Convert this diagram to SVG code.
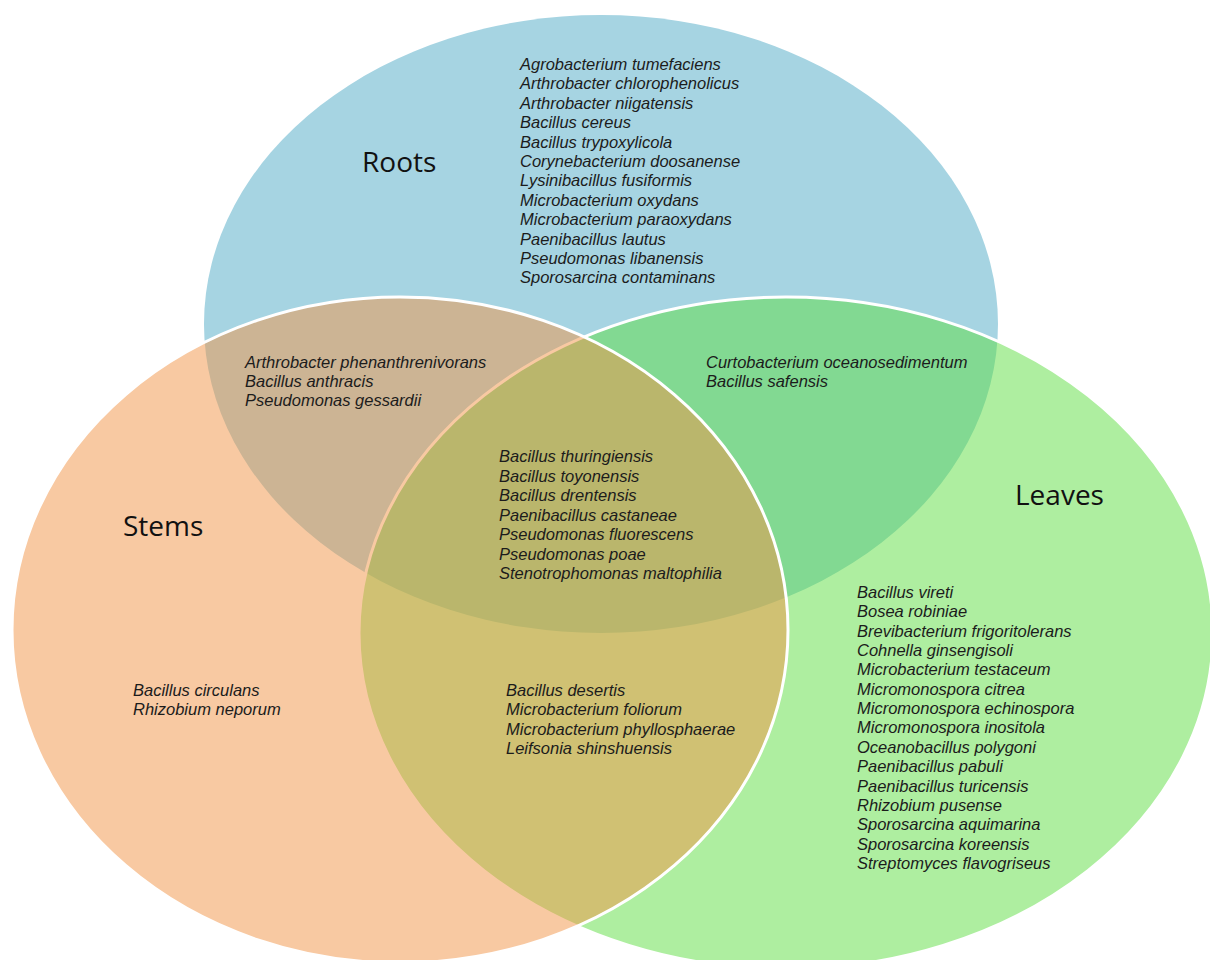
<svg xmlns="http://www.w3.org/2000/svg" width="1210" height="960" viewBox="0 0 1210 960">
<style>
.sp{font-family:"Liberation Sans",Arial,sans-serif;font-style:italic;font-size:16.5px;fill:#1c1c1c}
.lb{font-family:"Open Sans","Noto Sans",sans-serif;font-size:28px;fill:#111}
.ov{stroke:#ffffff;stroke-width:3;fill-opacity:0.5}
</style>
<rect width="1210" height="960" fill="#ffffff"/>
<g id="roots">
<ellipse cx="601" cy="324" rx="397" ry="309" fill="#A6D4E2"/>
<text class="lb" x="362" y="172">Roots</text>
</g>
<g id="leaves">
<ellipse class="ov" cx="786" cy="633" rx="427" ry="336" fill="#5DDD41"/>
<text class="lb" x="1015" y="505">Leaves</text>
</g>
<g id="stems">
<ellipse class="ov" cx="400" cy="630" rx="388" ry="333" fill="#F19345"/>
<text class="lb" x="123" y="536">Stems</text>
</g>
<g id="connectors"></g>
<g id="roots-only">
<text class="sp">
<tspan x="520" y="70">Agrobacterium tumefaciens</tspan>
<tspan x="520" y="89.4">Arthrobacter chlorophenolicus</tspan>
<tspan x="520" y="108.8">Arthrobacter niigatensis</tspan>
<tspan x="520" y="128.2">Bacillus cereus</tspan>
<tspan x="520" y="147.6">Bacillus trypoxylicola</tspan>
<tspan x="520" y="167">Corynebacterium doosanense</tspan>
<tspan x="520" y="186.4">Lysinibacillus fusiformis</tspan>
<tspan x="520" y="205.8">Microbacterium oxydans</tspan>
<tspan x="520" y="225.2">Microbacterium paraoxydans</tspan>
<tspan x="520" y="244.6">Paenibacillus lautus</tspan>
<tspan x="520" y="264">Pseudomonas libanensis</tspan>
<tspan x="520" y="283.4">Sporosarcina contaminans</tspan>
</text>
</g>
<g id="roots-stems">
<text class="sp">
<tspan x="245" y="368">Arthrobacter phenanthrenivorans</tspan>
<tspan x="245" y="387">Bacillus anthracis</tspan>
<tspan x="245" y="406">Pseudomonas gessardii</tspan>
</text>
</g>
<g id="roots-leaves">
<text class="sp">
<tspan x="706" y="368">Curtobacterium oceanosedimentum</tspan>
<tspan x="706" y="387">Bacillus safensis</tspan>
</text>
</g>
<g id="all-three">
<text class="sp">
<tspan x="499" y="462">Bacillus thuringiensis</tspan>
<tspan x="499" y="481.5">Bacillus toyonensis</tspan>
<tspan x="499" y="501">Bacillus drentensis</tspan>
<tspan x="499" y="520.5">Paenibacillus castaneae</tspan>
<tspan x="499" y="540">Pseudomonas fluorescens</tspan>
<tspan x="499" y="559.5">Pseudomonas poae</tspan>
<tspan x="499" y="579">Stenotrophomonas maltophilia</tspan>
</text>
</g>
<g id="stems-leaves">
<text class="sp">
<tspan x="506" y="696">Bacillus desertis</tspan>
<tspan x="506" y="715.4">Microbacterium foliorum</tspan>
<tspan x="506" y="734.8">Microbacterium phyllosphaerae</tspan>
<tspan x="506" y="754.2">Leifsonia shinshuensis</tspan>
</text>
</g>
<g id="stems-only">
<text class="sp">
<tspan x="133" y="696">Bacillus circulans</tspan>
<tspan x="133" y="715.4">Rhizobium neporum</tspan>
</text>
</g>
<g id="leaves-only">
<text class="sp">
<tspan x="857" y="598">Bacillus vireti</tspan>
<tspan x="857" y="617.35">Bosea robiniae</tspan>
<tspan x="857" y="636.7">Brevibacterium frigoritolerans</tspan>
<tspan x="857" y="656.05">Cohnella ginsengisoli</tspan>
<tspan x="857" y="675.4">Microbacterium testaceum</tspan>
<tspan x="857" y="694.75">Micromonospora citrea</tspan>
<tspan x="857" y="714.1">Micromonospora echinospora</tspan>
<tspan x="857" y="733.45">Micromonospora inositola</tspan>
<tspan x="857" y="752.8">Oceanobacillus polygoni</tspan>
<tspan x="857" y="772.15">Paenibacillus pabuli</tspan>
<tspan x="857" y="791.5">Paenibacillus turicensis</tspan>
<tspan x="857" y="810.85">Rhizobium pusense</tspan>
<tspan x="857" y="830.2">Sporosarcina aquimarina</tspan>
<tspan x="857" y="849.55">Sporosarcina koreensis</tspan>
<tspan x="857" y="868.9">Streptomyces flavogriseus</tspan>
</text>
</g>
</svg>
